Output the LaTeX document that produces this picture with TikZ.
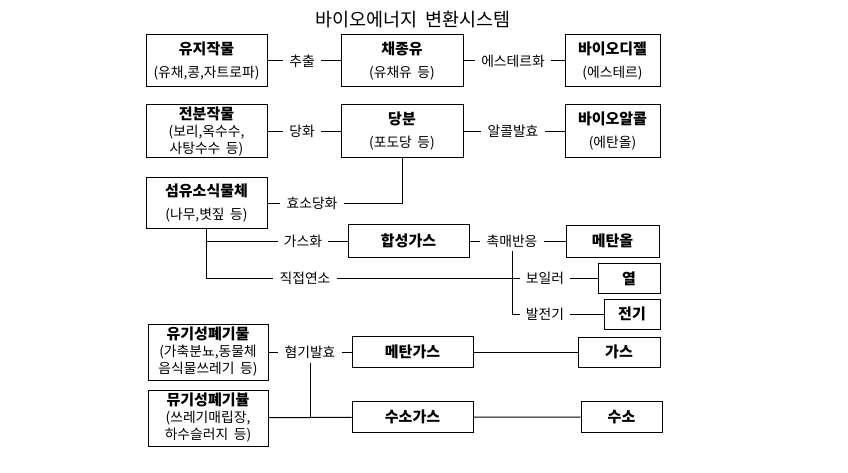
\documentclass[tikz,border=0pt]{standalone}
\usepackage{fontspec}
\setmainfont{Noto Sans CJK KR}[WordSpace=1.8]
\usetikzlibrary{positioning}
\newcommand{\boxhead}[1]{{\fontsize{15}{17}\selectfont\bfseries #1}}

\begin{document}
\begin{tikzpicture}[x=1pt, y=-1pt,
  box/.style 2 args={draw, line width=1pt, align=center, inner sep=0pt,
    minimum width=#1pt, minimum height=#2pt, font=\fontsize{13.8}{17}\selectfont},
  proc/.style={fill=white, inner xsep=6pt, inner ysep=4pt, font=\fontsize{13.8}{17}\selectfont},
  link/.style={line width=1pt}]
  \useasboundingbox (0,0) rectangle (848,473);

  \node[font=\fontsize{18.5}{20}\selectfont] (title) at (413,20) {바이오에너지 변환시스템};

  % feedstock boxes
  \node[box={121}{52}] (oilcrop) at (206.5,61) {\boxhead{유지작물}\\[6pt](유채,콩,자트로파)};
  \node[box={121}{53}] (starch) at (206.5,131.5) {\boxhead{전분작물}\\(보리,옥수수,\\사탕수수 등)};
  \node[box={121}{50}] (cellulose) at (206.5,203) {\boxhead{섬유소식물체}\\[6pt](나무,볏짚 등)};
  \node[box={120}{56}] (orgwaste) at (208,352) {\boxhead{유기성폐기물}\\(가축분뇨,동물체\\음식물쓰레기 등)};
  \node[box={120}{56}] (inorg) at (208,418) {\boxhead{뮤기성폐기뷸}\\(쓰레기매립장,\\하수슬러지 등)};

  % intermediate boxes
  \node[box={122}{52}] (rapeoil) at (402,61) {\boxhead{채종유}\\[6pt](유채유 등)};
  \node[box={122}{53}] (sugar) at (402,131.5) {\boxhead{당분}\\[6pt](포도당 등)};
  \node[box={121}{33}] (syngas) at (408.5,241) {\boxhead{합성가스}};
  \node[box={121}{31}] (methgas) at (412.5,352) {\boxhead{메탄가스}};
  \node[box={121}{31}] (h2gas) at (412.5,417) {\boxhead{수소가스}};

  % products
  \node[box={95}{52}] (biodiesel) at (612.5,61) {\boxhead{바이오디젤}\\[6pt](에스테르)};
  \node[box={95}{53}] (bioalcohol) at (612.5,131.5) {\boxhead{바이오알콜}\\[6pt](에탄올)};
  \node[box={93}{32}] (methanol) at (612.5,241) {\boxhead{메탄올}};
  \node[box={62}{30}] (heat) at (629,278.5) {\boxhead{열}};
  \node[box={56}{30}] (power) at (632,314) {\boxhead{전기}};
  \node[box={82}{30}] (gas) at (619,352) {\boxhead{가스}};
  \node[box={81}{31}] (h2) at (621.5,417) {\boxhead{수소}};

  % process labels
  \node[proc] (extract) at (302,61) {추출};
  \node[proc] (ester) at (513,61) {에스테르화};
  \node[proc] (sacch) at (302,131.5) {당화};
  \node[proc] (ferm) at (513,131.5) {알콜발효};
  \node[proc] (enzyme) at (312,203) {효소당화};
  \node[proc] (gasif) at (303,241) {가스화};
  \node[proc] (catal) at (512,241) {촉매반응};
  \node[proc] (combust) at (305,278.5) {직접연소};
  \node[proc] (boiler) at (545,278.5) {보일러};
  \node[proc] (gen) at (545,314) {발전기};
  \node[proc] (anaer) at (310,352) {혐기발효};

  % connectors
  \draw[link] (oilcrop) -- (extract) -- (rapeoil) -- (ester) -- (biodiesel);
  \draw[link] (starch) -- (sacch) -- (sugar) -- (ferm) -- (bioalcohol);
  \draw[link] (cellulose) -- (enzyme) -| (sugar);
  \draw[link] (cellulose.south) |- (gasif);
  \draw[link] (cellulose.south) |- (combust);
  \draw[link] (gasif) -- (syngas) -- (catal) -- (methanol);
  \draw[link] (combust) -- (boiler) -- (heat);
  \draw[link] (catal) |- (gen) -- (power);
  \draw[link] (orgwaste) -- (anaer) -- (methgas) -- (gas);
  \draw[link] (inorg) -- (h2gas) -- (h2);
  \draw[link] (anaer) -- (anaer |- h2gas.west);
\end{tikzpicture}
\end{document}
